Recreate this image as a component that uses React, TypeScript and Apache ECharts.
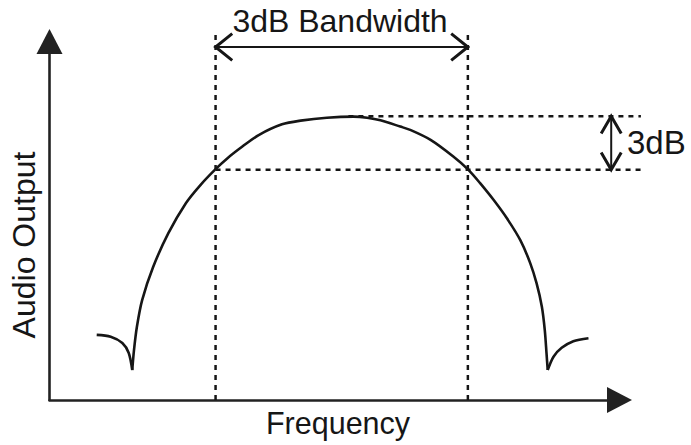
import React, { useEffect, useRef } from "react";
import * as echarts from "echarts";

// Response curve (arbitrary frequency / output units)
const frequency = [
  8.1, 10.5, 12.5, 13.6, 14.2, 14.5, 15.0, 15.9, 17.8, 20.4, 23.4, 25.9, 28.5,
  30.5, 33.1, 35.9, 39.9, 43.1, 47.6, 52.2, 54.5, 56.8, 60.2, 61.9, 65.4,
  69.3, 71.9, 73.9, 76.2, 78.5, 80.8, 82.5, 83.6, 84.5, 85.0, 85.3, 85.5,
  86.5, 87.9, 89.9, 92.5,
];
const output = [
  17.6, 17.1, 15.4, 12.7, 8.1, 13.5, 19.8, 27.0, 36.0, 45.1, 53.2, 58.1, 62.4,
  65.3, 68.5, 71.6, 74.5, 75.5, 76.3, 76.6, 76.3, 75.6, 73.9, 73.0, 70.3,
  65.8, 62.2, 58.6, 54.1, 49.1, 43.2, 37.0, 31.5, 25.2, 18.9, 12.6, 8.1,
  11.7, 14.1, 15.9, 16.7,
];

// Annotation levels
const bandEdges = [28.5, 71.8]; // -3dB frequencies
const peakLevel = 76.7;
const cutoffLevel = 62.2;
const peakGuideStart = 51.3;
const guideRight = 101.5;
const guideTop = 99.2;
const bandArrowLevel = 95.4;
const dbArrowFreq = 96.4;

// Axis extents (visible axes end at the arrow bases)
const xAxisEnd = 95.7;
const yAxisEnd = 93.5;
// Plot extents (same scale, room for annotations)
const xPlotEnd = 102.2;
const yPlotEnd = 100;

// Texts
const xTitle = "Frequency";
const yTitle = "Audio Output";
const bandTitle = "3dB Bandwidth";
const dbTitle = "3dB";

const INK = "#161616";
const FONT = '"Liberation Sans", Arial, Helvetica, sans-serif';

function seg(points: number[][], width: number, type: any = "solid") {
  return {
    type: "line",
    xAxisIndex: 1,
    yAxisIndex: 1,
    data: points,
    symbol: "none",
    silent: true,
    lineStyle: { color: INK, width, type, cap: "butt", join: "miter" },
    z: 3,
  };
}

export default function App() {
  const ref = useRef<HTMLDivElement>(null);
  useEffect(() => {
    if (!ref.current) return;
    const chart = echarts.init(ref.current, undefined, { renderer: "svg" });
    const curve = frequency.map((f, i) => [f, output[i]]);
    // split at the two notches so they stay sharp
    const dips: number[] = [];
    for (let i = 1; i < output.length - 1; i++) {
      if (output[i] < output[i - 1] && output[i] < output[i + 1] && output[i] < 10) dips.push(i);
    }
    const pieces = [
      curve.slice(0, dips[0] + 1),
      curve.slice(dips[0], dips[1] + 1),
      curve.slice(dips[1]),
    ];
    const [lo, hi] = bandEdges;
    const dash = [5, 5];
    const chevW = 2.86;
    const chevH = 3.6;
    const vChevW = 1.72;
    const vChevH = 4.7;

    const series: any[] = [
      ...pieces.map((p) => ({
        type: "line",
        xAxisIndex: 1,
        yAxisIndex: 1,
        data: p,
        symbol: "none",
        smooth: 0.3,
        silent: true,
        lineStyle: { color: INK, width: 2.6, join: "round" },
        z: 5,
      })),
      seg([[lo, 0], [lo, guideTop]], 2.5, dash),
      seg([[hi, 0], [hi, guideTop]], 2.5, dash),
      seg([[peakGuideStart, peakLevel], [guideRight, peakLevel]], 2.5, dash),
      seg([[lo, cutoffLevel], [guideRight, cutoffLevel]], 2.5, dash),
      seg([[lo, bandArrowLevel], [hi, bandArrowLevel]], 2),
      seg([[lo + chevW, bandArrowLevel + chevH], [lo, bandArrowLevel], [lo + chevW, bandArrowLevel - chevH]], 3),
      seg([[hi - chevW, bandArrowLevel + chevH], [hi, bandArrowLevel], [hi - chevW, bandArrowLevel - chevH]], 3),
      seg([[dbArrowFreq, cutoffLevel], [dbArrowFreq, peakLevel]], 2),
      seg([[dbArrowFreq - vChevW, peakLevel - vChevH], [dbArrowFreq, peakLevel], [dbArrowFreq + vChevW, peakLevel - vChevH]], 3),
      seg([[dbArrowFreq - vChevW, cutoffLevel + vChevH], [dbArrowFreq, cutoffLevel], [dbArrowFreq + vChevW, cutoffLevel + vChevH]], 3),
    ];

    const hidden = {
      axisLine: { show: false },
      axisTick: { show: false },
      axisLabel: { show: false },
      splitLine: { show: false },
    };
    const visible = {
      axisLine: {
        show: true,
        onZero: false,
        symbol: ["none", "triangle"],
        symbolSize: [26, 25],
        symbolOffset: [0, 12.5],
        lineStyle: { color: "#222", width: 2.6 },
      },
      axisTick: { show: false },
      axisLabel: { show: false },
      splitLine: { show: false },
    };

    const text = (t: string, x: number, y: number, size: number, align: string, rotation = 0) => ({
      type: "text",
      x,
      y,
      rotation,
      silent: true,
      style: {
        text: t,
        fontSize: size,
        fontFamily: FONT,
        fill: INK,
        align,
        verticalAlign: "middle",
        textAlign: align,
        textVerticalAlign: "middle",
      },
    });

    chart.setOption({
      animation: false,
      backgroundColor: "#ffffff",
      grid: [
        { left: 49.5, right: 691 - 607, top: 54, bottom: 445 - 400 },
        { left: 49.5, right: 691 - 645, top: 30, bottom: 445 - 400 },
      ],
      xAxis: [
        { type: "value", gridIndex: 0, min: 0, max: xAxisEnd, ...visible },
        { type: "value", gridIndex: 1, min: 0, max: xPlotEnd, ...hidden },
      ],
      yAxis: [
        { type: "value", gridIndex: 0, min: 0, max: yAxisEnd, ...visible },
        { type: "value", gridIndex: 1, min: 0, max: yPlotEnd, ...hidden },
      ],
      series,
      graphic: [
        text(bandTitle, 340, 21, 32, "center"),
        text(dbTitle, 627, 142.5, 33, "left"),
        text(xTitle, 338, 422.5, 30.5, "center"),
        text(yTitle, 23.5, 245, 32, "center", Math.PI / 2),
      ],
    });
    return () => chart.dispose();
  }, []);
  return (
    <div
      ref={ref}
      style={{ position: "fixed", left: 0, top: 0, width: 691, height: 445, background: "#fff" }}
    />
  );
}
